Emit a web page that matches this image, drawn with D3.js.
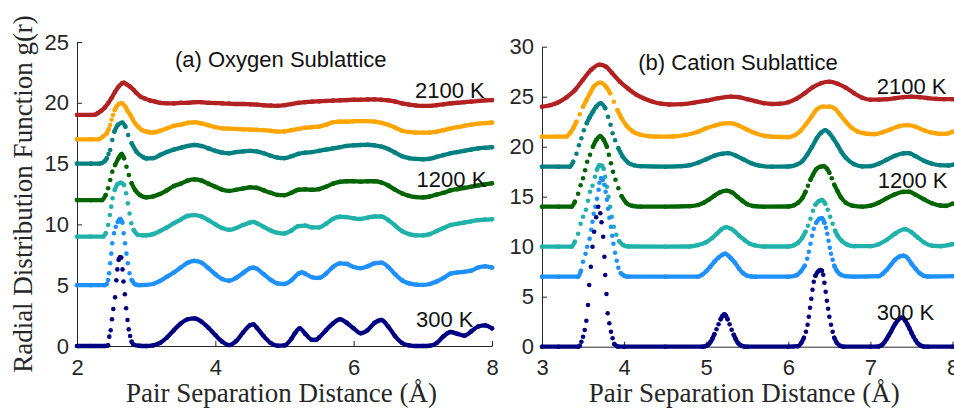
<!DOCTYPE html>
<meta charset="utf-8">
<script src="https://d3js.org/d3.v7.min.js"></script>
<style>
  body { margin: 0; background: #fff; }
  .tick text { font-family: "Liberation Sans", Arial, sans-serif; font-size: 22px; fill: #262626; }
  .domain, .tick line { stroke: #262626; }
</style>
<div id="my_dataviz"></div>
<script>

// ---- data: [distance (Å), g(r) with offset] ----
// (a) oxygen sublattice, from 300 K (bottom) up to 2100 K (top)
var oxy1 = [[2.0,0],[2.2,0],[2.4,0],[2.45,0.05],[2.467,0.77],[2.487,1.3],[2.506,2.2],[2.525,3.04],[2.55,4.0],[2.569,5.4],[2.583,6.3],[2.603,7.1],[2.622,7.3],[2.64,7.28],[2.658,6.3],[2.672,5.3],[2.692,4.25],[2.71,3.1],[2.73,2.14],[2.748,1.37],[2.768,0.82],[2.79,0.35],[2.82,0.1],[2.9,0.02],[3.0,0],[3.1,0.05],[3.2,0.25],[3.3,0.7],[3.4,1.3],[3.5,1.85],[3.6,2.2],[3.7,2.27],[3.8,2.0],[3.9,1.5],[4.0,0.9],[4.1,0.35],[4.2,0.08],[4.3,0.4],[4.4,1.1],[4.5,1.7],[4.55,1.78],[4.6,1.5],[4.7,0.8],[4.8,0.25],[4.9,0.02],[5.0,0.05],[5.1,0.6],[5.15,1.05],[5.22,1.45],[5.3,1.0],[5.4,0.5],[5.45,0.5],[5.5,0.7],[5.6,1.3],[5.7,1.85],[5.8,2.2],[5.9,1.9],[6.0,1.45],[6.1,1.05],[6.2,1.3],[6.3,1.9],[6.4,2.14],[6.5,1.6],[6.6,0.8],[6.7,0.25],[6.8,0.05],[6.9,0],[7.0,0],[7.1,0.02],[7.2,0.25],[7.3,0.8],[7.4,1.15],[7.5,1.0],[7.6,0.85],[7.7,1.2],[7.8,1.6],[7.9,1.7],[8.0,1.45]];
var oxy2 = [[2.0,5],[2.2,5],[2.4,5],[2.43,5.1],[2.45,5.43],[2.465,5.98],[2.48,6.8],[2.495,7.6],[2.51,8.45],[2.535,9.27],[2.56,9.8],[2.59,10.2],[2.625,10.45],[2.655,10.15],[2.675,9.27],[2.695,8.45],[2.715,7.6],[2.735,6.8],[2.76,5.98],[2.79,5.43],[2.84,5.08],[2.9,5.0],[3.0,5.02],[3.1,5.1],[3.2,5.35],[3.3,5.7],[3.4,6.05],[3.5,6.45],[3.6,6.85],[3.7,7.0],[3.8,6.85],[3.9,6.4],[4.0,5.9],[4.1,5.5],[4.2,5.37],[4.3,5.6],[4.4,6.0],[4.5,6.4],[4.55,6.45],[4.6,6.35],[4.7,5.9],[4.8,5.45],[4.9,5.15],[5.0,5.1],[5.1,5.4],[5.2,5.95],[5.25,6.05],[5.3,5.95],[5.4,5.65],[5.5,5.6],[5.6,5.95],[5.7,6.5],[5.8,6.8],[5.9,6.75],[6.0,6.5],[6.1,6.4],[6.2,6.55],[6.3,6.8],[6.4,6.85],[6.5,6.5],[6.6,5.9],[6.7,5.4],[6.8,5.15],[6.9,5.05],[7.0,5.02],[7.1,5.1],[7.2,5.3],[7.3,5.6],[7.4,5.95],[7.5,6.05],[7.6,6.1],[7.7,6.2],[7.8,6.45],[7.9,6.55],[8.0,6.45]];
var oxy3 = [[2.0,9],[2.2,9],[2.38,9],[2.415,9.27],[2.45,9.95],[2.475,10.77],[2.495,11.46],[2.515,12.15],[2.545,12.83],[2.585,13.3],[2.635,13.43],[2.68,13.24],[2.71,12.56],[2.735,11.73],[2.76,10.9],[2.785,10.09],[2.82,9.54],[2.88,9.15],[2.95,9.1],[3.0,9.1],[3.1,9.2],[3.2,9.45],[3.3,9.75],[3.4,10.1],[3.5,10.4],[3.6,10.7],[3.7,10.77],[3.8,10.65],[3.9,10.35],[4.0,10.0],[4.1,9.7],[4.2,9.55],[4.3,9.7],[4.4,9.95],[4.5,10.15],[4.55,10.2],[4.6,10.1],[4.7,9.8],[4.8,9.5],[4.9,9.3],[5.0,9.25],[5.1,9.5],[5.2,9.85],[5.3,9.9],[5.4,9.75],[5.5,9.75],[5.6,10.05],[5.7,10.45],[5.8,10.63],[5.9,10.6],[6.0,10.5],[6.1,10.45],[6.2,10.55],[6.3,10.65],[6.4,10.65],[6.5,10.35],[6.6,9.9],[6.7,9.45],[6.8,9.2],[6.9,9.1],[7.0,9.1],[7.1,9.2],[7.2,9.45],[7.3,9.7],[7.4,9.95],[7.5,10.05],[7.6,10.15],[7.7,10.25],[7.8,10.35],[7.9,10.4],[8.0,10.42]];
var oxy4 = [[2.0,12],[2.2,12],[2.36,12],[2.415,12.42],[2.45,12.97],[2.48,13.65],[2.51,14.34],[2.55,14.88],[2.6,15.44],[2.645,15.79],[2.68,15.44],[2.715,14.74],[2.75,14.06],[2.79,13.38],[2.84,12.83],[2.91,12.42],[2.97,12.25],[3.0,12.22],[3.1,12.3],[3.2,12.5],[3.3,12.8],[3.4,13.15],[3.5,13.35],[3.6,13.6],[3.7,13.7],[3.8,13.6],[3.9,13.35],[4.0,13.1],[4.1,12.85],[4.2,12.75],[4.3,12.85],[4.4,12.95],[4.5,13.05],[4.6,13.0],[4.7,12.8],[4.8,12.6],[4.9,12.42],[5.0,12.4],[5.1,12.6],[5.2,12.85],[5.3,12.88],[5.4,12.85],[5.5,12.9],[5.6,13.1],[5.7,13.35],[5.8,13.5],[5.9,13.55],[6.0,13.55],[6.1,13.52],[6.2,13.55],[6.3,13.55],[6.4,13.45],[6.5,13.2],[6.6,12.85],[6.7,12.55],[6.8,12.35],[6.9,12.25],[7.0,12.22],[7.1,12.3],[7.2,12.45],[7.3,12.6],[7.4,12.8],[7.5,12.9],[7.6,13.0],[7.7,13.1],[7.8,13.2],[7.9,13.3],[8.0,13.38]];
var oxy5 = [[2.0,15],[2.2,15],[2.33,15],[2.4,15.2],[2.43,15.44],[2.455,15.78],[2.48,16.12],[2.51,16.94],[2.54,17.63],[2.59,18.18],[2.655,18.37],[2.7,18.04],[2.74,17.35],[2.79,16.67],[2.86,15.98],[2.96,15.52],[3.0,15.42],[3.1,15.45],[3.2,15.7],[3.3,15.95],[3.4,16.15],[3.5,16.3],[3.6,16.45],[3.7,16.53],[3.8,16.45],[3.9,16.25],[4.0,16.05],[4.1,15.9],[4.2,15.85],[4.3,15.95],[4.4,16.0],[4.5,16.05],[4.6,16.0],[4.7,15.85],[4.8,15.65],[4.9,15.5],[5.0,15.45],[5.1,15.6],[5.2,15.8],[5.3,15.9],[5.4,15.95],[5.5,16.05],[5.6,16.15],[5.7,16.25],[5.8,16.35],[5.9,16.45],[6.0,16.5],[6.1,16.53],[6.2,16.55],[6.3,16.5],[6.4,16.4],[6.5,16.2],[6.6,15.9],[6.7,15.6],[6.8,15.45],[6.9,15.38],[7.0,15.35],[7.1,15.4],[7.2,15.55],[7.3,15.7],[7.4,15.85],[7.5,15.95],[7.6,16.05],[7.7,16.15],[7.8,16.25],[7.9,16.3],[8.0,16.35]];
var oxy6 = [[2.0,17],[2.2,17],[2.31,17],[2.37,17.2],[2.43,17.5],[2.46,17.85],[2.48,18.18],[2.5,18.6],[2.52,19.0],[2.545,19.4],[2.57,19.68],[2.61,19.92],[2.65,19.96],[2.7,19.68],[2.735,19.3],[2.77,19.0],[2.805,18.65],[2.84,18.31],[2.89,18.0],[2.94,17.76],[3.0,17.65],[3.05,17.57],[3.1,17.55],[3.2,17.7],[3.3,17.9],[3.4,18.1],[3.5,18.2],[3.6,18.35],[3.7,18.4],[3.8,18.3],[3.9,18.15],[4.0,18.0],[4.1,17.9],[4.2,17.88],[4.3,17.85],[4.4,17.82],[4.5,17.8],[4.6,17.78],[4.7,17.75],[4.8,17.7],[4.9,17.63],[5.0,17.65],[5.1,17.75],[5.2,17.85],[5.3,17.95],[5.4,18.0],[5.5,18.05],[5.6,18.2],[5.7,18.4],[5.8,18.45],[5.9,18.45],[6.0,18.48],[6.1,18.5],[6.2,18.5],[6.3,18.45],[6.4,18.35],[6.5,18.2],[6.6,17.95],[6.7,17.7],[6.8,17.6],[6.9,17.55],[7.0,17.54],[7.1,17.55],[7.2,17.62],[7.3,17.75],[7.4,17.9],[7.5,18.0],[7.6,18.1],[7.7,18.2],[7.8,18.28],[7.9,18.33],[8.0,18.37]];
var oxy7 = [[2.0,19],[2.2,19],[2.26,19.02],[2.3,19.15],[2.35,19.35],[2.4,19.6],[2.45,19.96],[2.5,20.4],[2.55,20.9],[2.6,21.32],[2.65,21.6],[2.68,21.65],[2.72,21.5],[2.77,21.32],[2.82,21.05],[2.86,20.8],[2.92,20.5],[2.98,20.35],[3.05,20.2],[3.13,20.1],[3.2,20.0],[3.3,19.96],[3.4,19.95],[3.5,20.0],[3.6,20.0],[3.7,20.05],[3.8,20.05],[3.9,20.0],[4.0,19.98],[4.1,19.95],[4.2,19.93],[4.3,19.9],[4.4,19.9],[4.5,19.88],[4.6,19.85],[4.7,19.8],[4.8,19.77],[4.9,19.75],[5.0,19.8],[5.1,19.9],[5.2,20.0],[5.3,20.05],[5.4,20.1],[5.5,20.12],[5.6,20.15],[5.7,20.18],[5.8,20.2],[5.9,20.22],[6.0,20.25],[6.1,20.25],[6.2,20.27],[6.3,20.28],[6.4,20.25],[6.5,20.2],[6.6,20.1],[6.7,19.95],[6.8,19.85],[6.9,19.78],[7.0,19.74],[7.1,19.74],[7.2,19.8],[7.3,19.88],[7.4,19.95],[7.5,20.0],[7.6,20.05],[7.7,20.1],[7.8,20.15],[7.9,20.2],[8.0,20.22]];

// (b) cation sublattice, from 300 K (bottom) up to 2100 K (top)
var cat1 = [[3.0,0],[3.2,0],[3.44,0],[3.46,0.1],[3.48,0.5],[3.5,1.0],[3.52,1.67],[3.54,2.6],[3.56,4.17],[3.575,6.17],[3.595,8.0],[3.615,10.0],[3.635,11.5],[3.66,12.94],[3.685,14.0],[3.71,13.34],[3.725,12.44],[3.745,11.0],[3.76,9.0],[3.77,7.17],[3.785,5.27],[3.8,3.34],[3.82,2.34],[3.84,1.5],[3.86,0.84],[3.88,0.27],[3.92,0.02],[4.0,0],[4.5,0],[4.95,0],[4.975,0.02],[5.0,0.08],[5.025,0.2],[5.05,0.45],[5.075,0.8],[5.1,1.25],[5.125,1.75],[5.15,2.25],[5.175,2.75],[5.2,3.1],[5.22,3.25],[5.24,3.1],[5.26,2.75],[5.285,2.25],[5.31,1.7],[5.335,1.2],[5.36,0.75],[5.385,0.4],[5.41,0.2],[5.435,0.08],[5.46,0.02],[5.5,0],[6.0,0],[6.12,0.05],[6.16,0.4],[6.19,0.9],[6.215,1.5],[6.235,2.2],[6.25,3.0],[6.265,3.9],[6.28,4.8],[6.295,5.7],[6.31,6.5],[6.33,7.1],[6.36,7.5],[6.39,7.67],[6.41,7.6],[6.425,7.2],[6.44,6.4],[6.455,5.5],[6.47,4.6],[6.485,3.8],[6.5,3.0],[6.52,2.2],[6.54,1.5],[6.56,0.9],[6.59,0.4],[6.63,0.1],[6.68,0],[7.0,0],[7.1,0.02],[7.125,0.1],[7.15,0.25],[7.175,0.5],[7.2,0.8],[7.225,1.15],[7.25,1.5],[7.275,1.9],[7.3,2.25],[7.325,2.55],[7.35,2.8],[7.375,2.9],[7.4,2.85],[7.425,2.6],[7.45,2.25],[7.475,1.85],[7.5,1.4],[7.525,1.0],[7.55,0.65],[7.575,0.35],[7.6,0.18],[7.625,0.07],[7.65,0.02],[7.7,0],[8.0,0]];
var cat2 = [[3.0,7],[3.2,7],[3.44,7],[3.475,7.6],[3.5,8.5],[3.53,9.3],[3.55,10.0],[3.58,10.8],[3.6,11.7],[3.615,12.5],[3.63,13.3],[3.65,14.0],[3.67,14.8],[3.69,15.7],[3.7,16.4],[3.72,16.85],[3.74,16.7],[3.76,16.2],[3.775,15.5],[3.79,14.7],[3.805,13.8],[3.82,12.9],[3.84,12.0],[3.855,11.1],[3.87,10.3],[3.89,9.4],[3.91,8.6],[3.93,7.9],[3.96,7.35],[4.0,7.1],[4.05,7.0],[4.5,7.0],[4.9,7.0],[4.95,7.2],[5.0,7.55],[5.05,8.0],[5.1,8.5],[5.15,8.9],[5.2,9.2],[5.23,9.3],[5.27,9.1],[5.3,8.85],[5.35,8.4],[5.4,7.8],[5.45,7.35],[5.5,7.1],[5.55,7.02],[5.6,7.0],[6.0,7.0],[6.1,7.15],[6.15,7.5],[6.2,8.1],[6.23,8.8],[6.25,9.5],[6.27,10.3],[6.29,11.1],[6.31,11.8],[6.34,12.4],[6.38,12.8],[6.41,12.85],[6.44,12.4],[6.46,11.9],[6.475,11.3],[6.49,10.6],[6.505,9.9],[6.52,9.3],[6.54,8.7],[6.56,8.1],[6.59,7.6],[6.63,7.25],[6.7,7.05],[6.8,7.0],[7.1,7.05],[7.15,7.3],[7.2,7.7],[7.25,8.2],[7.3,8.7],[7.35,9.0],[7.4,9.1],[7.45,8.9],[7.5,8.3],[7.55,7.8],[7.6,7.35],[7.65,7.1],[7.7,7.02],[8.0,7.05]];
var cat3 = [[3.0,10],[3.2,10],[3.36,10],[3.4,10.5],[3.44,11.3],[3.47,12.3],[3.5,13.0],[3.535,13.7],[3.56,14.6],[3.585,15.5],[3.615,16.1],[3.645,17.0],[3.67,17.7],[3.7,18.15],[3.73,18.1],[3.75,17.8],[3.77,17.0],[3.79,16.0],[3.81,15.0],[3.83,14.0],[3.85,13.0],[3.875,12.0],[3.905,11.2],[3.94,10.55],[3.99,10.15],[4.05,10.02],[4.5,10.0],[4.8,10.02],[4.9,10.17],[5.0,10.45],[5.07,10.85],[5.13,11.3],[5.18,11.7],[5.24,11.95],[5.3,11.8],[5.35,11.5],[5.4,11.1],[5.47,10.65],[5.53,10.3],[5.6,10.12],[5.7,10.02],[6.0,10.02],[6.07,10.15],[6.12,10.4],[6.17,10.9],[6.21,11.5],[6.24,12.1],[6.27,12.8],[6.3,13.6],[6.33,14.2],[6.37,14.55],[6.41,14.67],[6.45,14.3],[6.48,13.7],[6.51,13.0],[6.54,12.3],[6.57,11.6],[6.6,11.1],[6.65,10.6],[6.72,10.2],[6.8,10.05],[7.0,10.05],[7.1,10.25],[7.2,10.7],[7.3,11.3],[7.42,11.75],[7.5,11.45],[7.58,10.9],[7.65,10.45],[7.75,10.1],[7.85,10.05],[8.0,10.25]];
var cat4 = [[3.0,14],[3.2,14],[3.36,14],[3.4,14.5],[3.44,15.3],[3.47,16.15],[3.5,16.85],[3.525,17.65],[3.55,18.5],[3.585,19.2],[3.62,20.0],[3.66,20.65],[3.71,21.05],[3.75,20.7],[3.79,20.0],[3.815,19.2],[3.84,18.35],[3.865,17.5],[3.895,16.7],[3.93,15.85],[3.97,15.05],[4.03,14.35],[4.1,14.08],[4.2,14.0],[4.5,14.0],[4.8,14.05],[4.9,14.17],[4.97,14.4],[5.03,14.7],[5.1,15.1],[5.17,15.45],[5.25,15.6],[5.32,15.4],[5.38,15.0],[5.44,14.6],[5.5,14.25],[5.57,14.07],[5.7,14.0],[6.0,14.02],[6.07,14.15],[6.12,14.4],[6.17,14.85],[6.21,15.5],[6.24,16.1],[6.27,16.7],[6.3,17.2],[6.34,17.75],[6.39,18.0],[6.43,18.05],[6.47,17.8],[6.5,17.4],[6.53,16.85],[6.56,16.2],[6.6,15.55],[6.64,14.95],[6.7,14.4],[6.78,14.1],[6.9,14.0],[7.0,14.1],[7.1,14.4],[7.2,14.85],[7.3,15.25],[7.4,15.48],[7.47,15.5],[7.55,15.2],[7.65,14.75],[7.75,14.35],[7.85,14.12],[7.92,14.08],[8.0,14.3]];
var cat5 = [[3.0,18],[3.2,18],[3.34,18],[3.38,18.5],[3.42,19.3],[3.45,20.15],[3.48,20.85],[3.51,21.65],[3.545,22.35],[3.58,22.95],[3.62,23.5],[3.66,24.0],[3.715,24.35],[3.77,23.85],[3.805,23.0],[3.835,22.2],[3.86,21.35],[3.89,20.65],[3.93,19.85],[3.98,19.05],[4.05,18.4],[4.12,18.15],[4.2,18.05],[4.5,18.0],[4.7,18.05],[4.8,18.15],[4.9,18.4],[5.0,18.75],[5.1,19.1],[5.2,19.3],[5.27,19.35],[5.35,19.15],[5.45,18.75],[5.55,18.35],[5.65,18.1],[5.8,18.0],[6.0,18.02],[6.1,18.2],[6.17,18.55],[6.23,19.2],[6.29,20.0],[6.35,20.9],[6.4,21.4],[6.45,21.65],[6.5,21.35],[6.55,20.8],[6.6,20.15],[6.65,19.45],[6.7,18.9],[6.8,18.25],[6.9,18.03],[7.0,18.05],[7.1,18.3],[7.2,18.7],[7.3,19.1],[7.4,19.33],[7.47,19.35],[7.55,19.05],[7.65,18.6],[7.75,18.3],[7.85,18.15],[7.95,18.12],[8.0,18.2]];
var cat6 = [[3.0,21],[3.2,21],[3.3,21.02],[3.34,21.35],[3.38,21.85],[3.42,22.5],[3.46,23.25],[3.5,24.0],[3.54,24.65],[3.585,25.35],[3.63,26.0],[3.71,26.4],[3.78,26.0],[3.83,25.35],[3.875,24.5],[3.92,23.65],[3.97,22.85],[4.03,22.1],[4.1,21.55],[4.2,21.2],[4.3,21.05],[4.4,21.0],[4.6,21.02],[4.75,21.17],[4.9,21.5],[5.0,21.85],[5.1,22.1],[5.2,22.3],[5.3,22.35],[5.4,22.1],[5.5,21.7],[5.6,21.35],[5.7,21.1],[5.8,21.0],[6.0,20.95],[6.08,21.15],[6.15,21.6],[6.22,22.3],[6.29,23.1],[6.35,23.75],[6.42,24.0],[6.5,24.0],[6.57,23.8],[6.63,23.2],[6.7,22.5],[6.77,21.9],[6.85,21.5],[6.95,21.3],[7.05,21.25],[7.15,21.45],[7.25,21.75],[7.35,22.05],[7.45,22.15],[7.55,22.0],[7.65,21.65],[7.75,21.4],[7.85,21.28],[7.93,21.3],[8.0,21.5]];
var cat7 = [[3.0,24],[3.1,24.15],[3.2,24.45],[3.3,24.95],[3.4,25.65],[3.5,26.7],[3.6,27.7],[3.7,28.2],[3.78,28.0],[3.85,27.4],[3.95,26.5],[4.05,25.8],[4.15,25.2],[4.25,24.8],[4.35,24.5],[4.45,24.3],[4.55,24.22],[4.7,24.25],[4.85,24.4],[5.0,24.6],[5.15,24.85],[5.3,25.0],[5.4,24.95],[5.5,24.75],[5.6,24.55],[5.7,24.35],[5.8,24.27],[5.9,24.3],[6.0,24.45],[6.1,24.8],[6.2,25.35],[6.3,25.95],[6.4,26.35],[6.5,26.5],[6.6,26.3],[6.7,25.9],[6.8,25.35],[6.9,24.9],[7.0,24.7],[7.1,24.7],[7.2,24.75],[7.3,24.85],[7.4,24.95],[7.5,25.0],[7.6,24.95],[7.7,24.85],[7.8,24.78],[7.9,24.75],[8.0,24.75]];

var seriesColors = ["#000080", "#1e90ff", "#20b2aa", "#006400", "#008080", "#ffa500", "#b22222"];
var oxygenTicksX = [2, 4, 6, 8];
var oxygenTicksY = [0, 5, 10, 15, 20, 25];
var cationTicksX = [3, 4, 5, 6, 7, 8];
var cationTicksY = [0, 5, 10, 15, 20, 25, 30];
var tempLabels = ["2100 K", "1200 K", "300 K"];

var svg = d3.select("#my_dataviz")
  .append("svg")
    .attr("width", 954)
    .attr("height", 409);

var sans = "'Liberation Sans', Arial, sans-serif";
var serif = "'Liberation Serif', 'Times New Roman', serif";

// draws one curve: samples joined by a thick line, except on steep parts
// where they lie far apart and show up as separate dots
function drawSeries(g, x, y, pts, color) {
  var runs = [], cur = [pts[0]];
  for (var i = 1; i < pts.length; i++) {
    var dx = x(pts[i][0]) - x(pts[i-1][0]);
    var dy = y(pts[i][1]) - y(pts[i-1][1]);
    if (Math.hypot(dx, dy) <= 4 || Math.abs(dy) <= 2.2 * Math.abs(dx)) {
      cur.push(pts[i]);
    } else {
      runs.push(cur);
      cur = [pts[i]];
    }
  }
  runs.push(cur);

  var line = d3.line()
    .x(function(d) { return x(d[0]); })
    .y(function(d) { return y(d[1]); })
    .curve(d3.curveMonotoneX);

  g.selectAll(null)
    .data(runs.filter(function(r) { return r.length > 1; }))
    .join("path")
      .attr("fill", "none")
      .attr("stroke", color)
      .attr("stroke-width", 4.3)
      .attr("stroke-linejoin", "round")
      .attr("stroke-linecap", "round")
      .attr("d", line);

  g.selectAll(null)
    .data(pts)
    .join("circle")
      .attr("cx", function(d) { return x(d[0]); })
      .attr("cy", function(d) { return y(d[1]); })
      .attr("r", 2.3)
      .attr("fill", color);
}

function panel(opts) {
  var x = d3.scaleLinear().domain(opts.xDomain).range(opts.xRange);
  var y = d3.scaleLinear().domain(opts.yDomain).range(opts.yRange);

  svg.append("g")
    .attr("transform", "translate(0," + opts.yRange[0] + ")")
    .call(d3.axisBottom(x).tickValues(opts.ticksX).tickFormat(d3.format("d"))
      .tickSizeInner(-5).tickSizeOuter(0).tickPadding(13));

  svg.append("g")
    .attr("transform", "translate(" + opts.xRange[0] + ",0)")
    .call(d3.axisLeft(y).tickValues(opts.ticksY).tickFormat(d3.format("d"))
      .tickSizeInner(-5).tickSizeOuter(0).tickPadding(8));

  // top series first so the lower curves sit on top
  var g = svg.append("g");
  opts.series.slice().reverse().forEach(function(s, i) {
    drawSeries(g, x, y, s, seriesColors[seriesColors.length - 1 - i]);
  });

  svg.append("text")
    .attr("x", x(opts.title[1]))
    .attr("y", y(opts.title[2]))
    .style("font-family", sans)
    .style("font-size", "22px")
    .attr("fill", "#111")
    .text(opts.title[0]);

  opts.labels.forEach(function(l, i) {
    svg.append("text")
      .attr("x", x(l[0]))
      .attr("y", y(l[1]))
      .style("font-family", sans)
      .style("font-size", "22px")
      .attr("fill", "#111")
      .text(tempLabels[i]);
  });

  svg.append("text")
    .attr("x", (opts.xRange[0] + opts.xRange[1]) / 2 - 3)
    .attr("y", 402)
    .attr("text-anchor", "middle")
    .style("font-family", serif)
    .style("font-size", "27px")
    .attr("fill", "#262626")
    .text("Pair Separation Distance (Å)");

  return {x: x, y: y};
}

panel({
  xDomain: [2, 8], xRange: [77, 492],
  yDomain: [0, 25], yRange: [346, 42],
  ticksX: oxygenTicksX, ticksY: oxygenTicksY,
  series: [oxy1, oxy2, oxy3, oxy4, oxy5, oxy6, oxy7],
  title: ["(a) Oxygen Sublattice", 3.417, 22.97],
  labels: [[6.887, 20.39], [6.91, 13.1], [6.9, 1.59]]
});

panel({
  xDomain: [3, 8], xRange: [542, 952.5],
  yDomain: [0, 30], yRange: [346.7, 46.7],
  ticksX: cationTicksX, ticksY: cationTicksY,
  series: [cat1, cat2, cat3, cat4, cat5, cat6, cat7],
  title: ["(b) Cation Sublattice", 4.173, 27.67],
  labels: [[7.077, 25.27], [7.089, 15.84], [7.077, 2.67]]
});

// shared y axis title
svg.append("text")
  .attr("transform", "translate(32,194) rotate(-90)")
  .attr("text-anchor", "middle")
  .style("font-family", serif)
  .style("font-size", "27px")
  .attr("fill", "#262626")
  .text("Radial Distribution Function g(r)");

</script>
